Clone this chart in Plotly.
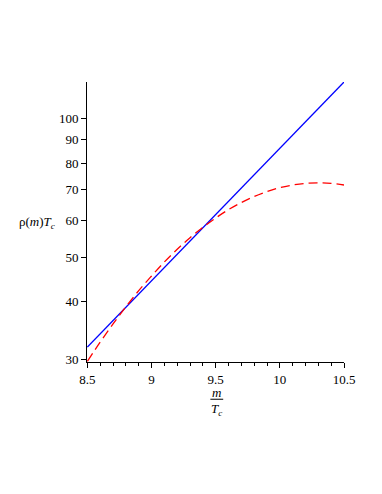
import plotly.graph_objects as go

# blue: straight line on the log axis (end points)
blue_x = [8.5, 10.5]
blue_y = [31.9, 120.0]

# red dashed curve, read at 0.1 steps
red_x = [8.5, 8.6, 8.7, 8.8, 8.9, 9.0, 9.1, 9.2, 9.3, 9.4, 9.5,
         9.6, 9.7, 9.8, 9.9, 10.0, 10.1, 10.2, 10.3, 10.4, 10.5]
red_y = [29.7, 32.7, 35.8, 39.0, 42.3, 45.5, 48.8, 52.0, 55.1, 58.0, 60.8,
         63.4, 65.7, 67.7, 69.4, 70.8, 71.7, 72.3, 72.5, 72.3, 71.7]

ytick_vals = [30, 40, 50, 60, 70, 80, 90, 100]
xtick_vals = [8.5, 9, 9.5, 10, 10.5]
xtick_text = ["8.5", "9", "9.5", "10", "10.5"]

fnt = "Liberation Serif, serif"

fig = go.Figure()
fig.add_trace(go.Scatter(x=blue_x, y=blue_y, mode="lines",
                         line=dict(color="#0000ff", width=1.3)))
fig.add_trace(go.Scatter(x=red_x, y=red_y, mode="lines", line_shape="spline",
                         line=dict(color="#ff0000", width=1.3, dash="9px,5px")))

# page body has an 8px margin, so margins are shifted by 8
fig.update_layout(
    width=382, height=494,
    margin=dict(l=79, r=46, t=74, b=140),
    paper_bgcolor="white", plot_bgcolor="white",
    showlegend=False,
    font=dict(family=fnt, size=13, color="black"),
    xaxis=dict(range=[8.497, 10.5], tickvals=xtick_vals, ticktext=xtick_text,
               showgrid=False, zeroline=False, showline=True, linecolor="black",
               linewidth=1, ticks="outside", ticklen=5, tickcolor="black",
               minor=dict(dtick=0.1, ticks="outside", ticklen=3, tickcolor="black")),
    yaxis=dict(type="log", range=[1.4713, 2.0792], tickvals=ytick_vals,
               showgrid=False, zeroline=False, showline=True, linecolor="black",
               linewidth=1, ticks="outside", ticklen=5, tickcolor="black"),
)

fig.add_annotation(text="ρ(<i>m</i>)<i>T</i><sub><i>c</i></sub>", xref="paper", yref="paper",
                   x=-0.115, y=0.5, xanchor="right", yanchor="middle",
                   showarrow=False, font=dict(family=fnt, size=13))
fig.add_annotation(text="<i>m</i>", xref="paper", yref="paper",
                   x=0.505, y=-0.11, xanchor="center", yanchor="middle",
                   showarrow=False, font=dict(family=fnt, size=13))
fig.add_annotation(text="<i>T</i><sub><i>c</i></sub>", xref="paper", yref="paper",
                   x=0.505, y=-0.17, xanchor="center", yanchor="middle",
                   showarrow=False, font=dict(family=fnt, size=13))
fig.add_shape(type="line", xref="paper", yref="paper",
              x0=0.48, x1=0.53, y0=-0.133, y1=-0.133,
              line=dict(color="black", width=1))

fig.write_html("out.html")
